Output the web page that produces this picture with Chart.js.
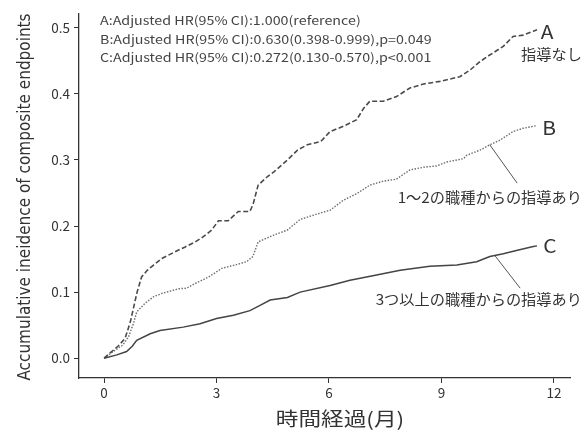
<!DOCTYPE html>
<html>
<head>
<meta charset="utf-8">
<script src="https://cdn.jsdelivr.net/npm/chart.js@4.4.1/dist/chart.umd.min.js"></script>
<style>
  html, body { margin: 0; padding: 0; background: #fff; }
  #wrap { width: 586px; height: 432px; position: relative; }
</style>
</head>
<body>
<div id="wrap"><canvas id="kmChart"></canvas></div>
<script>
/* tick labels */
var xTicks = [0, 3, 6, 9, 12];
var yTicks = [0.0, 0.1, 0.2, 0.3, 0.4, 0.5];

/* A: no guidance (months / cumulative incidence) */
var monthsA = [0, 0.16, 0.37, 0.56, 0.7, 0.8, 0.88, 1.0, 1.15, 1.32, 1.54, 1.89, 2.15, 2.43, 2.65, 2.87, 3.05, 3.31, 3.58, 3.89, 3.98, 4.11, 4.36, 4.53, 4.89, 5.16, 5.42, 5.78, 6.03, 6.38, 6.74, 6.92, 7.09, 7.45, 7.8, 8.16, 8.52, 8.96, 9.49, 9.76, 10.03, 10.29, 10.65, 10.91, 11.18, 11.45, 11.55];
var valuesA = [0, 0.008, 0.018, 0.03, 0.055, 0.08, 0.1, 0.123, 0.133, 0.141, 0.151, 0.161, 0.168, 0.176, 0.184, 0.194, 0.208, 0.208, 0.222, 0.222, 0.234, 0.262, 0.275, 0.282, 0.3, 0.315, 0.323, 0.328, 0.343, 0.351, 0.361, 0.378, 0.389, 0.389, 0.396, 0.409, 0.415, 0.419, 0.426, 0.436, 0.449, 0.459, 0.472, 0.487, 0.489, 0.495, 0.497];

/* B: guidance from 1-2 professions */
var monthsB = [0, 0.29, 0.5, 0.65, 0.78, 0.87, 1.09, 1.32, 1.54, 1.98, 2.2, 2.43, 2.79, 3.14, 3.49, 3.8, 3.97, 4.11, 4.51, 4.89, 5.23, 5.67, 6.03, 6.38, 6.74, 7.09, 7.45, 7.8, 8.16, 8.52, 8.87, 9.14, 9.59, 9.67, 10.03, 10.29, 10.56, 10.91, 11.18, 11.45, 11.55];
var valuesB = [0, 0.012, 0.02, 0.032, 0.052, 0.07, 0.083, 0.093, 0.098, 0.105, 0.106, 0.113, 0.123, 0.136, 0.141, 0.146, 0.154, 0.176, 0.186, 0.194, 0.21, 0.218, 0.224, 0.239, 0.249, 0.262, 0.268, 0.271, 0.285, 0.289, 0.291, 0.297, 0.302, 0.307, 0.315, 0.323, 0.33, 0.343, 0.348, 0.351, 0.352];

/* C: guidance from 3 or more professions */
var monthsC = [0, 0.34, 0.6, 0.75, 0.87, 1.23, 1.49, 2.11, 2.56, 3.0, 3.45, 3.89, 4.16, 4.43, 4.89, 5.23, 6.03, 6.56, 7.27, 7.9, 8.69, 9.41, 9.94, 10.29, 10.65, 11.0, 11.45, 11.55];
var valuesC = [0, 0.005, 0.01, 0.018, 0.027, 0.037, 0.042, 0.047, 0.052, 0.06, 0.065, 0.072, 0.08, 0.088, 0.092, 0.1, 0.11, 0.118, 0.126, 0.133, 0.139, 0.141, 0.146, 0.154, 0.158, 0.163, 0.169, 0.17];

var hrLines = [
    'A:Adjusted HR(95% CI):1.000(reference)',
    'B:Adjusted HR(95% CI):0.630(0.398-0.999),p=0.049',
    'C:Adjusted HR(95% CI):0.272(0.130-0.570),p<0.001'
];
var groupNames = ['指導なし', '1〜2の職種からの指導あり', '3つ以上の職種からの指導あり'];
var xTitle = '時間経過(月)';
var yTitle = 'Accumulative ineidence of composite endpoints';

var jpFont = "'Noto Sans CJK JP', 'Noto Sans', sans-serif";

/*Build point list for a series*/
function toPoints(xs, ys) {
    var pts = [];
    for (var i = 0; i < xs.length; i++) {
        pts.push({ x: xs[i], y: ys[i] });
    }
    return pts;
}

/*Draw text stretched sideways, like the reference print*/
function wideText(ctx, text, x, y, sx) {
    ctx.save();
    ctx.translate(x, y);
    ctx.scale(sx, 1);
    ctx.fillText(text, 0, 0);
    ctx.restore();
}

/*Text, labels and leader lines*/
var annotatePlugin = {
    id: 'annotate',
    afterDraw: function (chart) {
        var ctx = chart.ctx;
        var xs = chart.scales.x;
        var ys = chart.scales.y;
        var px = function (v) { return xs.getPixelForValue(v); };
        var py = function (v) { return ys.getPixelForValue(v); };
        ctx.save();

        // hazard ratio lines
        ctx.fillStyle = '#444';
        ctx.font = '12px ' + jpFont;
        ctx.textAlign = 'left';
        ctx.textBaseline = 'middle';
        for (var i = 0; i < hrLines.length; i++) {
            wideText(ctx, hrLines[i], 100, 20.5 + i * 18.5, 1.19);
        }

        // leader lines
        ctx.strokeStyle = '#555';
        ctx.lineWidth = 1;
        ctx.beginPath();
        ctx.moveTo(px(10.29), py(0.323));
        ctx.lineTo(px(11.02), py(0.265));
        ctx.moveTo(px(10.43), py(0.155));
        ctx.lineTo(px(11.1), py(0.106));
        ctx.stroke();

        // group letters
        ctx.fillStyle = '#333';
        ctx.font = '19px ' + jpFont;
        ctx.textAlign = 'center';
        wideText(ctx, 'A', 547, 32, 1.1);
        wideText(ctx, 'B', 549, 128, 1.1);
        wideText(ctx, 'C', 550, 246, 1.1);

        // group names
        ctx.font = '14.5px ' + jpFont;
        ctx.textAlign = 'right';
        wideText(ctx, groupNames[0], 582, 54, 1.05);
        wideText(ctx, groupNames[1], 582, 197, 1.05);
        wideText(ctx, groupNames[2], 582, 299, 1.05);

        // x title
        ctx.font = '19px ' + jpFont;
        ctx.textAlign = 'center';
        wideText(ctx, xTitle, 340, 419, 1.19);

        // y title
        ctx.translate(26, 197);
        ctx.rotate(-Math.PI / 2);
        ctx.font = "17px 'Liberation Sans Narrow', 'DejaVu Sans Condensed', Roboto, sans-serif";
        ctx.textAlign = 'center';
        ctx.fillText(yTitle, 0, 0);
        ctx.restore();
    }
};

var chartCtx = document.getElementById('kmChart');
var kmChart = new Chart(chartCtx, {
    type: 'line',
    data: {
        datasets: [
            {
                label: 'A',
                data: toPoints(monthsA, valuesA),
                borderColor: '#4a4a4a',
                borderWidth: 1.6,
                borderDash: [5, 2.5],
                pointRadius: 0
            },
            {
                label: 'B',
                data: toPoints(monthsB, valuesB),
                borderColor: '#6e6e6e',
                borderWidth: 1.4,
                borderDash: [1.5, 1.5],
                pointRadius: 0
            },
            {
                label: 'C',
                data: toPoints(monthsC, valuesC),
                borderColor: '#444',
                borderWidth: 1.5,
                pointRadius: 0
            }
        ]
    },
    options: {
        responsive: true,
        maintainAspectRatio: false,
        animation: false,
        layout: { padding: { top: 14, right: 16, left: 0, bottom: 0 } },
        plugins: {
            legend: { display: false },
            tooltip: { enabled: false }
        },
        scales: {
            x: {
                type: 'linear',
                min: -0.67,
                max: 12.43,
                afterFit: function (scale) { scale.height = 54; },
                afterBuildTicks: function (scale) {
                    scale.ticks = xTicks.map(function (v) { return { value: v }; });
                },
                border: { display: true, color: '#333', width: 1.3 },
                grid: { drawOnChartArea: false, drawTicks: true, tickLength: 5, color: '#333' },
                ticks: {
                    color: '#333',
                    padding: 2,
                    font: { size: 13.5, family: jpFont },
                    callback: function (v) { return String(v); }
                }
            },
            y: {
                min: -0.03,
                max: 0.521,
                afterFit: function (scale) { scale.width = 79; },
                afterBuildTicks: function (scale) {
                    scale.ticks = yTicks.map(function (v) { return { value: v }; });
                },
                border: { display: true, color: '#333', width: 1.3 },
                grid: { drawOnChartArea: false, drawTicks: true, tickLength: 5, color: '#333' },
                ticks: {
                    color: '#333',
                    padding: 4,
                    font: { size: 13.5, family: jpFont },
                    callback: function (v) { return v.toFixed(1); }
                }
            }
        }
    },
    plugins: [annotatePlugin]
});
</script>
</body>
</html>
